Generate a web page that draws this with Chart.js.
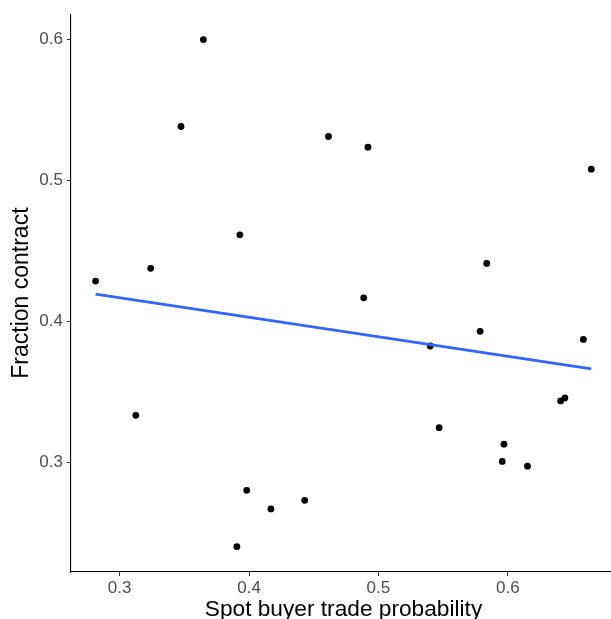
<!DOCTYPE html>
<html>
<head>
<meta charset="utf-8">
<script src="https://cdn.jsdelivr.net/npm/chart.js@4.4.0/dist/chart.umd.min.js"></script>
<style>
  html, body { margin: 0; padding: 0; background: #fff; overflow: hidden; }
  #wrap { width: 620px; height: 619px; }
</style>
</head>
<body>
<div id="wrap"><canvas id="scatter" width="620" height="619"></canvas></div>
<script>
// Spot buyer trade probability (x) vs fraction contract (y)
var spotProb = [0.2814, 0.3125, 0.3240, 0.3474, 0.3647, 0.3929, 0.3906, 0.3982,
                0.4169, 0.4430, 0.4614, 0.4886, 0.4919, 0.5400, 0.5469, 0.5786,
                0.5837, 0.5957, 0.5970, 0.6152, 0.6408, 0.6441, 0.6584, 0.6645];
var fracContract = [0.4286, 0.3333, 0.4376, 0.5383, 0.6000, 0.4614, 0.2401, 0.2801,
                    0.2669, 0.2730, 0.5312, 0.4167, 0.5236, 0.3825, 0.3245, 0.3929,
                    0.4411, 0.3006, 0.3128, 0.2972, 0.3435, 0.3456, 0.3872, 0.5080];

// linear fit, endpoints at the data range
var fitX = [0.2814, 0.6645];
var fitY = [0.4194, 0.3662];

var xTicks = [0.3, 0.4, 0.5, 0.6];
var yTicks = [0.3, 0.4, 0.5, 0.6];

var fontFam = "'Liberation Sans', Arial, Helvetica, sans-serif";

var points = spotProb.map(function (x, i) { return { x: x, y: fracContract[i] }; });
var fitLine = fitX.map(function (x, i) { return { x: x, y: fitY[i] }; });

var ctx = document.getElementById('scatter');

var chartData = {
    datasets: [{
        type: 'scatter',
        data: points,
        pointRadius: 3.4,
        pointBackgroundColor: '#000',
        pointBorderWidth: 0,
        order: 2
    }, {
        type: 'line',
        data: fitLine,
        borderColor: '#3366FF',
        borderWidth: 2.8,
        pointRadius: 0,
        fill: false,
        order: 1
    }]
};

var chartOptions = {
    responsive: false,
    animation: false,
    layout: { padding: { top: 14, right: 0, bottom: 0, left: 0 } },
    plugins: { legend: { display: false }, tooltip: { enabled: false } },
    scales: {
        x: {
            type: 'linear',
            min: 0.2624,
            max: 0.6836,
            afterFit: function (s) { s.height = 47; },
            afterBuildTicks: function (s) { s.ticks = xTicks.map(function (v) { return { value: v }; }); },
            ticks: {
                color: '#4D4D4D',
                font: { family: fontFam, size: 17 },
                padding: 2,
                callback: function (v) { return v.toFixed(1); }
            },
            grid: { drawOnChartArea: false, tickLength: 4, color: '#333' },
            border: { color: '#000', width: 1.1 },
            title: {
                display: true,
                text: 'Spot buyer trade probability',
                color: '#000',
                font: { family: fontFam, size: 22.7 },
                padding: { top: 0, bottom: -4 }
            }
        },
        y: {
            type: 'linear',
            min: 0.2221,
            max: 0.618,
            afterFit: function (s) { s.width = 71; },
            afterBuildTicks: function (s) { s.ticks = yTicks.map(function (v) { return { value: v }; }); },
            ticks: {
                color: '#4D4D4D',
                font: { family: fontFam, size: 17 },
                padding: 4,
                callback: function (v) { return v.toFixed(1); }
            },
            grid: { drawOnChartArea: false, tickLength: 4, color: '#333' },
            border: { color: '#000', width: 1.1 },
            title: {
                display: true,
                text: 'Fraction contract',
                color: '#000',
                font: { family: fontFam, size: 23 },
                padding: { top: 8, bottom: 0 }
            }
        }
    }
};

var scatterChart = new Chart(ctx, { data: chartData, options: chartOptions });
</script>
</body>
</html>
